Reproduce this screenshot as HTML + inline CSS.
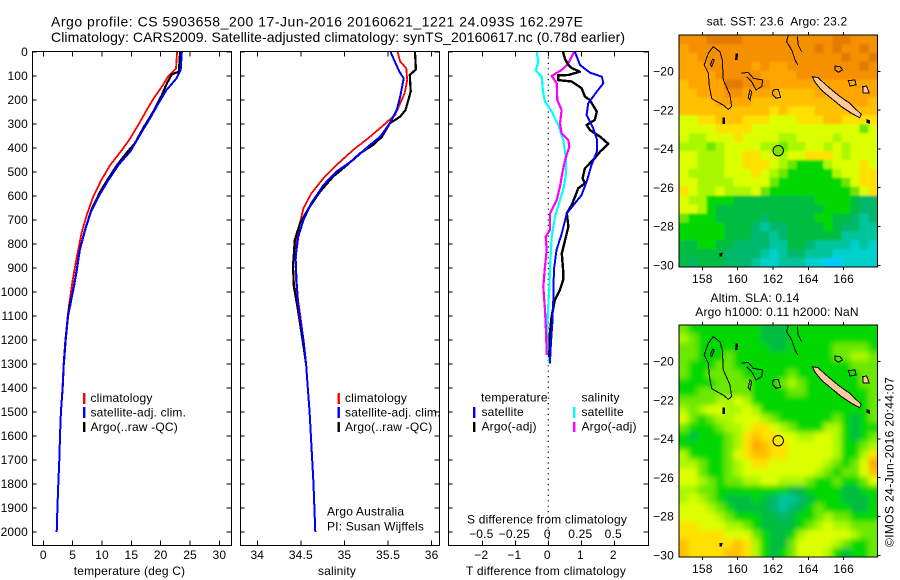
<!DOCTYPE html>
<html><head><meta charset="utf-8"><title>Argo profile</title>
<style>
html,body{margin:0;padding:0;background:#fff}
svg{display:block}
text{font-family:"Liberation Sans",Arial,sans-serif;font-size:12px;fill:#000;letter-spacing:.18px}
</style></head>
<body>
<svg id="fig" xmlns="http://www.w3.org/2000/svg" width="900" height="580" viewBox="0 0 900 580">
<defs>
<clipPath id="clipTop"><rect x="679.5" y="35" width="198" height="232"/></clipPath>
<clipPath id="clipBot"><rect x="679.5" y="325" width="198" height="232"/></clipPath>
<filter id="blurA" filterUnits="userSpaceOnUse" x="650" y="0" width="250" height="300"><feGaussianBlur stdDeviation="1"/></filter>
<filter id="blurB" filterUnits="userSpaceOnUse" x="650" y="290" width="250" height="290"><feGaussianBlur stdDeviation="2.6"/></filter>
</defs>
<text x="51" y="26.3" style="font-size:14px;letter-spacing:0" textLength="532">Argo profile: CS 5903658_200 17-Jun-2016 20160621_1221 24.093S 162.297E</text>
<text x="51" y="41.8" style="font-size:14px;letter-spacing:0" textLength="574">Climatology: CARS2009. Satellite-adjusted climatology: synTS_20160617.nc (0.78d earlier)</text>

<g id="p1"></g>
<g id="p2"></g>
<g id="p3"></g>

<text x="129.5" y="575" text-anchor="middle">temperature (deg C)</text>
<text x="337" y="575" text-anchor="middle">salinity</text>
<text x="546" y="575" text-anchor="middle" textLength="160">T difference from climatology</text>
<text x="547" y="523.5" text-anchor="middle" textLength="160">S difference from climatology</text>

<g>
<rect x="83" y="393" width="2.4" height="11" fill="#f00"/>
<rect x="83" y="407" width="2.4" height="11" fill="#00f"/>
<rect x="83" y="422" width="2.4" height="10" fill="#000"/>
<text x="90.5" y="402">climatology</text>
<text x="90.5" y="416.5">satellite-adj. clim.</text>
<text x="90.5" y="431">Argo(..raw -QC)</text>
</g>
<g>
<rect x="337.5" y="393" width="2.4" height="11" fill="#f00"/>
<rect x="337.5" y="407" width="2.4" height="11" fill="#00f"/>
<rect x="337.5" y="422" width="2.4" height="10" fill="#000"/>
<text x="345" y="402">climatology</text>
<text x="345" y="416.5">satellite-adj. clim.</text>
<text x="345" y="431">Argo(..raw -QC)</text>
<text x="327" y="515.5">Argo Australia</text>
<text x="327" y="530.5">PI: Susan Wijffels</text>
</g>
<g>
<text x="481" y="401.5">temperature</text>
<rect x="473" y="407" width="2.4" height="11" fill="#00f"/>
<rect x="473" y="422" width="2.4" height="10" fill="#000"/>
<text x="481.5" y="416">satellite</text>
<text x="481.5" y="430.5">Argo(-adj)</text>
<text x="581.5" y="401.5">salinity</text>
<rect x="573" y="407" width="2.4" height="11" fill="#0ff"/>
<rect x="573" y="422" width="2.4" height="10" fill="#f0f"/>
<text x="581.5" y="416">satellite</text>
<text x="581.5" y="430.5">Argo(-adj)</text>
</g>

<text x="777" y="25.5" text-anchor="middle">sat. SST: 23.6&#160; Argo: 23.2</text>
<text x="755" y="302" text-anchor="middle">Altim. SLA: 0.14</text>
<text x="777" y="316" text-anchor="middle">Argo h1000: 0.11 h2000: NaN</text>
<g id="m1"></g>
<g id="m2"></g>
<text transform="translate(893.5,547) rotate(-90)" textLength="170">©IMOS 24-Jun-2016 20:44:07</text>
</svg>
<script>
// ---------- profile data ----------
const tempTickValues = [0,5,10,15,20,25,30];
const salTickValues = [34,34.5,35,35.5,36];
const salTickLabels = ['34','34.5','35','35.5','36'];
const diffTTickValues = [-2,-1,0,1,2];
const diffTTickLabels = ['\u22122','\u22121','0','1','2'];
const diffSTickValues = [-0.5,-0.25,0,0.25,0.5];
const diffSTickLabels = ['\u22120.5','\u22120.25','0','0.25','0.5'];
const depthTicks = [0,100,200,300,400,500,600,700,800,900,1000,1100,1200,1300,1400,1500,1600,1700,1800,1900,2000];

const tempClimDepth = [0,68,100,144,186,242,290,360,408,471,533,603,679,755,853,950,1054,1100,1200,1300,1400,1500,1600,1700,1800,1900,2000];
const tempClimValue = [22.8,22.6,21.3,20.2,19.0,17.6,16.5,14.8,13.4,11.4,9.9,8.5,7.4,6.5,5.7,5.0,4.4,4.15,3.75,3.45,3.25,3.0,2.85,2.73,2.56,2.4,2.28];
const tempArgoDepth = [0,82,93,128,179,250,318,380,420,470,526,582,658,742,825,908,992,1054,1100,1200,1300];
const tempArgoValue = [23.3,23.1,21.9,21.1,20.2,18.7,17.0,15.6,14.2,12.6,11.1,9.7,8.2,7.1,6.2,5.7,5.1,4.5,4.2,3.8,3.5];
const tempSatDepth = [0,75,110,158,214,276,332,415,471,533,603,672,742,825,908,992,1054,1100,1200,1300,1400,1500,1600,1700,1800,1900,2000];
const tempSatValue = [23.6,23.4,22.7,21.0,19.6,18.2,16.8,14.8,12.8,11.1,9.4,8.0,7.1,6.2,5.7,5.1,4.6,4.2,3.8,3.5,3.3,3.0,2.85,2.73,2.56,2.4,2.28];

const salClimDepth = [0,40,68,117,172,214,262,304,360,408,464,526,589,651,728,783,894,992,1061,1200,1300,1400,1500,1600,1700,1800,1900,2000];
const salClimValue = [35.61,35.64,35.71,35.72,35.69,35.64,35.58,35.45,35.27,35.10,34.93,34.76,34.62,34.53,34.48,34.45,34.44,34.45,34.48,34.53,34.56,34.58,34.60,34.615,34.63,34.645,34.655,34.665];
const salArgoDepth = [0,72,96,165,242,269,297,353,387,422,471,519,582,651,714,783,894,978,1061,1200,1300];
const salArgoValue = [35.81,35.82,35.75,35.76,35.70,35.64,35.52,35.43,35.33,35.18,35.03,34.87,34.72,34.59,34.49,34.43,34.41,34.42,34.46,34.52,34.56];
const salSatDepth = [0,33,82,110,186,242,297,353,394,450,498,554,630,700,769,853,950,1061,1200,1300,1400,1500,1600,1700,1800,1900,2000];
const salSatValue = [35.53,35.57,35.63,35.68,35.64,35.60,35.52,35.41,35.27,35.10,34.91,34.76,34.62,34.53,34.47,34.44,34.45,34.47,34.53,34.56,34.58,34.60,34.615,34.63,34.645,34.655,34.665];

const dtSatDepth = [0,54,86,103,130,165,214,262,318,367,415,471,533,596,672,756,825,908,1033,1131,1214,1297];
const dtSatValue = [0.81,0.96,1.26,1.62,1.67,1.47,1.21,1.16,1.36,1.48,1.47,1.31,1.18,1.01,0.56,0.41,0.25,0.17,0.15,0.12,0.08,0.05];
const dtArgoDepth = [0,30,54,68,82,96,97,117,123,151,186,200,248,283,304,325,353,383,415,443,485,526,547,568,603,637,672,728,783,839,908,950,992,1033,1103,1172,1270];
const dtArgoValue = [0.45,0.51,0.61,0.72,0.96,0.61,0.30,0.30,0.71,1.01,1.11,1.26,1.47,1.41,1.16,1.26,1.57,1.82,1.57,1.41,1.11,1.04,1.11,0.91,0.81,0.71,0.56,0.61,0.51,0.41,0.45,0.45,0.35,0.20,0.10,0.05,0.03];
const dsSatDepth = [0,40,78,103,158,207,248,304,367,436,505,561,617,686,769,894,978,1103,1214,1297];
const dsSatValue = [-0.088,-0.076,-0.095,-0.05,-0.042,-0.025,0.026,0.076,0.114,0.132,0.134,0.119,0.089,0.051,0.026,0.013,0.008,-0.005,-0.008,0.008];
const dsArgoDepth = [0,47,75,100,130,200,242,297,339,367,394,450,505,561,617,672,742,769,825,894,978,1075,1172,1262];
const dsArgoValue = [0.195,0.152,0.101,0.026,0.064,0.068,0.101,0.089,0.101,0.152,0.159,0.127,0.106,0.089,0.064,0.013,0.013,-0.02,-0.012,-0.025,-0.038,-0.025,-0.017,-0.012];

// ---------- map data: colour level per grid cell ----------
const palette = ['#e27c00','#f59000','#ffa500','#ffc000','#ffe000','#dcff00','#aaf800','#6ce800','#00d800','#00bc40','#00b86c','#00c49c','#00d0cc','#00ccff'];
const sstGrid = [
[1,1,1,0,0,0,0,1,1,1,1,1,1,1,1,1,1,0,0,1,1,1],
[2,1,1,1,1,1,1,1,1,1,1,1,1,1,1,0,1,0,1,1,0,1],
[2,2,1,1,1,1,1,1,1,1,1,1,1,1,1,1,1,1,0,1,1,0],
[2,2,2,1,1,1,1,1,2,1,2,2,1,1,1,1,1,1,1,1,0,1],
[2,2,2,2,1,1,1,1,1,2,2,2,2,1,1,1,1,1,1,1,1,1],
[3,2,2,2,2,0,0,1,1,1,2,2,2,2,2,2,2,2,2,2,2,2],
[3,3,2,2,2,1,1,2,2,2,2,3,3,3,3,2,2,2,2,2,2,2],
[3,3,3,3,2,2,2,2,3,3,3,3,3,3,3,3,3,3,2,2,2,3],
[3,3,3,3,3,3,3,3,3,3,4,3,4,4,4,3,3,3,3,3,3,3],
[5,5,4,4,3,3,3,4,4,4,5,5,5,4,4,4,3,3,4,4,4,4],
[5,5,5,5,4,4,4,4,5,5,5,5,5,5,5,5,5,5,5,5,7,5],
[5,6,6,5,5,5,4,5,5,5,5,6,6,5,5,5,5,6,5,5,5,5],
[6,6,6,7,6,5,5,5,5,6,6,7,6,6,5,5,6,5,6,5,5,5],
[5,5,6,6,6,5,5,4,4,5,5,6,5,5,4,4,4,5,6,5,5,5],
[5,5,6,6,6,5,5,4,4,4,5,6,7,8,8,8,6,5,5,5,4,5],
[5,6,6,6,6,5,5,5,4,5,6,7,8,8,8,8,8,6,5,5,4,4],
[5,5,6,6,6,6,5,5,5,5,7,8,8,8,8,8,8,8,7,5,4,4],
[4,5,6,6,5,6,6,6,5,7,8,8,8,8,8,8,8,8,8,7,5,4],
[5,6,6,8,8,8,9,9,9,9,9,9,9,9,9,8,8,8,8,9,10,10],
[5,5,6,8,9,9,9,9,9,9,9,9,9,9,9,9,8,8,8,9,10,10],
[7,8,8,8,9,9,9,9,9,10,9,9,9,9,9,8,8,9,9,10,11,10],
[8,8,8,8,8,9,9,9,10,11,10,10,9,9,9,9,8,9,10,10,11,11],
[8,8,8,8,8,9,9,9,10,10,11,10,9,9,9,9,9,9,11,11,11,11],
[9,9,8,8,9,9,10,10,10,10,11,11,9,9,10,11,11,11,11,12,11,12],
[9,9,9,9,9,10,10,10,10,11,12,11,10,10,11,11,11,12,12,12,12,12],
[9,10,9,9,9,10,10,10,11,12,12,11,11,11,12,12,13,13,12,12,12,12]
];
const slaGrid = [
[7,8,8,8,8,8,8,8,8,9,9,9,8,8,8,8,8,8,8,8,8,8],
[6,7,8,8,8,8,8,8,8,9,9,9,8,8,8,8,8,8,8,8,8,8],
[7,7,8,8,8,8,8,8,8,8,9,9,8,8,8,8,8,7,7,7,7,8],
[7,7,8,8,8,7,8,8,8,8,8,8,8,8,8,8,8,7,7,6,6,7],
[7,8,8,8,7,7,8,8,8,8,8,8,8,8,8,8,8,8,8,7,7,7],
[7,8,8,7,7,7,7,8,8,8,8,8,7,8,8,8,8,8,8,8,7,7],
[8,8,8,8,7,7,7,7,8,8,8,7,6,7,8,8,8,8,8,8,7,7],
[8,8,7,7,7,7,7,7,8,8,8,8,7,7,8,8,8,8,8,8,8,7],
[7,7,7,7,6,6,5,6,8,8,8,8,8,8,8,8,8,8,8,8,8,7],
[6,7,6,5,5,6,6,5,6,8,8,8,8,8,8,8,8,8,8,8,8,7],
[5,7,8,7,6,6,5,5,5,6,7,8,8,8,8,8,8,7,8,9,8,7],
[7,8,8,8,7,6,6,5,4,4,5,6,7,8,8,8,6,6,8,9,8,8],
[8,9,8,8,8,7,6,4,3,4,4,5,5,6,6,5,5,6,8,9,8,7],
[8,8,8,8,8,7,6,4,2,3,4,4,5,5,5,5,5,6,8,8,7,6],
[6,8,8,8,8,7,5,4,3,3,4,4,5,5,5,5,5,6,8,8,6,4],
[6,6,7,8,8,7,6,5,4,4,5,5,5,5,5,5,6,7,8,7,5,2],
[5,5,7,8,8,7,6,5,5,5,5,5,5,5,5,6,7,8,7,7,5,3],
[5,5,6,7,8,7,7,6,6,5,5,6,6,6,7,8,8,7,8,8,7,5],
[6,6,7,7,8,8,8,8,8,8,8,8,9,9,8,8,8,8,9,9,8,8],
[6,5,6,7,8,9,9,9,8,9,10,11,11,10,9,8,8,8,9,9,9,8],
[5,5,5,6,7,8,9,9,9,9,10,11,10,9,8,7,8,8,8,9,9,8],
[5,5,5,5,6,7,8,8,8,9,9,10,9,8,8,7,6,7,7,8,8,8],
[4,4,5,5,5,6,6,7,8,9,9,9,9,8,7,6,5,6,6,7,7,7],
[4,4,4,4,4,5,5,5,7,8,9,9,8,6,5,5,5,5,5,6,7,7],
[3,4,4,4,4,4,3,4,6,8,9,9,7,5,5,5,5,6,7,8,8,7],
[3,4,4,4,4,3,3,4,6,8,9,8,7,5,5,5,6,8,9,8,8,7]
];
const lonTicks = [158,160,162,164,166];
const latTicks = [-20,-22,-24,-26,-28,-30];
const argoLon = 162.297;
const argoLat = -24.093;
const coastNames = ['new-caledonia','chesterfield-reef','chesterfield-inner','bellona-reef','reef-ring','reef-small','coast-line-a','coast-line-b','ouvea','lifou','mare','island-a','island-b','island-c','island-d'];
const coastLons = [
[164.23,164.55,165.11,165.68,166.34,167.0,166.91,166.43,165.87,165.30,164.73,164.36],
[158.62,159.0,159.13,159.19,159.57,159.66,159.47,159.19,158.72,158.53,158.40,158.34,158.11,158.34],
[158.58,158.68,158.53,158.45],
[160.23,160.60,160.89,161.42,161.36,161.04,160.79,160.51],
[162.02,162.30,162.43,162.17,161.96],
[160.70,160.79,160.70,160.60],
[162.87,162.77,163.06,163.25,163.40],
[163.38,163.43,163.62],
[165.51,165.79,165.94,165.70,165.51],
[166.26,166.64,166.70,166.36],
[167.08,167.30,167.45,167.11],
[167.33,167.47,167.45,167.33],
[159.18,159.27,159.25,159.16],
[159.90,159.99,159.97,159.89],
[159.0,159.12,159.08,159.0]
];
const coastLats = [
[-20.28,-20.33,-20.79,-21.22,-21.65,-22.22,-22.39,-22.16,-21.82,-21.39,-20.96,-20.53],
[-18.73,-18.99,-19.42,-20.45,-21.22,-21.82,-21.96,-21.74,-21.51,-21.39,-20.79,-20.10,-19.67,-19.07],
[-19.38,-19.42,-19.76,-19.67],
[-20.10,-20.05,-20.36,-20.45,-20.79,-20.96,-20.53,-20.27],
[-20.96,-20.93,-21.34,-21.39,-21.17],
[-20.96,-21.05,-21.48,-21.34],
[-18.13,-18.47,-18.90,-19.42,-19.67],
[-18.21,-18.64,-18.99],
[-19.73,-19.76,-19.93,-20.05,-19.93],
[-20.48,-20.45,-20.70,-20.76],
[-20.79,-20.76,-21.13,-21.13],
[-22.50,-22.55,-22.68,-22.64],
[-22.40,-22.40,-22.68,-22.68],
[-19.10,-19.10,-19.38,-19.38],
[-29.40,-29.38,-29.52,-29.52]
];
const coastKinds = ['land','ring','ring','open','ring','ring','open','open','ring','ring','land','dark','dark','dark','dark'];

// ---------- axis functions ----------
const yD = d => 52 + d * 0.24;
const xT = t => 43.3 + t * 5.87;
const xS = s => 257.3 + (s - 34) * 87.15;
const xDT = t => 548.3 + t * 33;
const xDS = s => 548.3 + s * 132;
const lonX = lon => 702.3 + (lon - 158) * 17.67;
const latY = (lat, off) => 71.3 + off + (-20 - lat) * 19.4;
const NS = 'http://www.w3.org/2000/svg';

function mk(parent, tag, attrs, name) {
  const el = document.createElementNS(NS, tag);
  for (const k in attrs) el.setAttribute(k, attrs[k]);
  
  
  parent.appendChild(el);
  return el;
}
function label(parent, x, y, str, anchor, name) {
  const t = mk(parent, 'text', {x: x, y: y, 'text-anchor': anchor}, name);
  t.textContent = str;
  return t;
}
function hline(p, x1, y1, x2, y2, name) {
  mk(p, 'line', {x1: x1, y1: y1, x2: x2, y2: y2, stroke: '#000', 'stroke-width': 1, 'shape-rendering': 'crispEdges'}, name);
}
function panelFrame(p, left, right, ticks, fn) {
  mk(p, 'rect', {x: left + 0.5, y: 51.5, width: right - left, height: 494, fill: 'none', stroke: '#000', 'stroke-width': 1.3, 'shape-rendering': 'crispEdges'}, 'panel-frame');
  depthTicks.forEach(d => {
    hline(p, left, yD(d), left + 4.5, yD(d), 'depth-tick-left');
    hline(p, right, yD(d), right - 4.5, yD(d), 'depth-tick-right');
  });
  ticks.forEach(v => {
    hline(p, fn(v), 52, fn(v), 56.5, 'x-tick-top');
    hline(p, fn(v), 545, fn(v), 540.5, 'x-tick-bottom');
  });
}
function curve(p, depths, values, fx, color, w, name) {
  const pts = depths.map((d, i) => fx(values[i]).toFixed(1) + ',' + yD(d).toFixed(1)).join(' ');
  mk(p, 'polyline', {points: pts, fill: 'none', stroke: color, 'stroke-width': w, 'stroke-linejoin': 'round', 'shape-rendering': 'crispEdges'}, name);
}

// ---------- panels ----------
const p1 = document.getElementById('p1');
panelFrame(p1, 32, 231, tempTickValues, xT);
curve(p1, tempClimDepth, tempClimValue, xT, '#f00', 1.8, 'temperature-climatology-line');
curve(p1, tempArgoDepth, tempArgoValue, xT, '#000', 2.2, 'temperature-argo-line');
curve(p1, tempSatDepth, tempSatValue, xT, '#00f', 2, 'temperature-satellite-line');
depthTicks.forEach(d => label(p1, 28, yD(d) + 4.2, String(d), 'end', 'depth-tick-label'));
tempTickValues.forEach(v => label(p1, xT(v), 559, String(v), 'middle', 'temperature-tick-label'));

const p2 = document.getElementById('p2');
panelFrame(p2, 240, 439, salTickValues, xS);
curve(p2, salClimDepth, salClimValue, xS, '#f00', 1.8, 'salinity-climatology-line');
curve(p2, salArgoDepth, salArgoValue, xS, '#000', 2.2, 'salinity-argo-line');
curve(p2, salSatDepth, salSatValue, xS, '#00f', 2, 'salinity-satellite-line');
salTickValues.forEach((v, i) => label(p2, xS(v), 559, salTickLabels[i], 'middle', 'salinity-tick-label'));

const p3 = document.getElementById('p3');
panelFrame(p3, 448, 648, diffTTickValues, xDT);
mk(p3, 'line', {x1: xDT(0), y1: 52, x2: xDT(0), y2: 545, stroke: '#000', 'stroke-width': 1.2, 'stroke-dasharray': '1.2 4.2'}, 'zero-reference-line');
curve(p3, dsSatDepth, dsSatValue, xDS, '#0ff', 2.2, 'salinity-satellite-difference-line');
curve(p3, dsArgoDepth, dsArgoValue, xDS, '#f0f', 2.2, 'salinity-argo-difference-line');
curve(p3, dtArgoDepth, dtArgoValue, xDT, '#000', 2.4, 'temperature-argo-difference-line');
curve(p3, dtSatDepth, dtSatValue, xDT, '#00f', 2, 'temperature-satellite-difference-line');
diffTTickValues.forEach((v, i) => label(p3, xDT(v) - 1, 559, diffTTickLabels[i], 'middle', 't-difference-tick-label'));
diffSTickValues.forEach((v, i) => label(p3, xDS(v) - 1, 538, diffSTickLabels[i], 'middle', 's-difference-tick-label'));

// ---------- maps ----------
function drawMap(g, grid, off, clip, blur, markerFill) {
  const left = 679.5, top = 35 + off, cw = 198 / grid[0].length, ch = 232 / grid.length;
  const clipG = mk(g, 'g', {'clip-path': 'url(#' + clip + ')'}, 'map-plot-area');
  const cells = mk(clipG, 'g', {filter: 'url(#' + blur + ')'}, 'map-heatmap');
  grid.forEach((row, r) => row.forEach((v, c) => {
    let x = left + c * cw, y = top + r * ch, w = cw + 0.5, h = ch + 0.5;
    if (c === 0) { x -= 12; w += 12; }
    if (c === row.length - 1) { w += 12; }
    if (r === 0) { y -= 12; h += 12; }
    if (r === grid.length - 1) { h += 12; }
    mk(cells, 'rect', {x: x.toFixed(2), y: y.toFixed(2), width: w.toFixed(2), height: h.toFixed(2), fill: palette[v]}, 'map-cell');
  }));
  coastNames.forEach((nm, i) => {
    const pts = coastLons[i].map((lon, j) => lonX(lon).toFixed(1) + ',' + latY(coastLats[i][j], off).toFixed(1)).join(' ');
    const kind = coastKinds[i];
    const tag = kind === 'open' ? 'polyline' : 'polygon';
    const fill = kind === 'land' ? '#ffc99b' : kind === 'dark' ? '#000' : 'none';
    mk(clipG, tag, {points: pts, fill: fill, stroke: '#000', 'stroke-width': 1, 'shape-rendering': 'crispEdges'}, 'coast-' + nm);
  });
  mk(clipG, 'circle', {cx: lonX(argoLon), cy: latY(argoLat, off), r: 5.2, fill: markerFill, stroke: '#000', 'stroke-width': 1}, 'argo-position-marker');
  mk(g, 'rect', {x: 679, y: top, width: 198.5, height: 232, fill: 'none', stroke: '#000', 'stroke-width': 1.2, 'shape-rendering': 'crispEdges'}, 'map-frame');
  lonTicks.forEach(lon => {
    hline(g, lonX(lon), top, lonX(lon), top - 3, 'map-lon-tick-top');
    hline(g, lonX(lon), top + 232, lonX(lon), top + 235, 'map-lon-tick-bottom');
    label(g, lonX(lon), top + 248, String(lon), 'middle', 'map-lon-label');
  });
  latTicks.forEach(lat => {
    hline(g, 877, latY(lat, off), 880.5, latY(lat, off), 'map-lat-tick');
    label(g, 674, latY(lat, off) + 4.2, '\u2212' + Math.abs(lat), 'end', 'map-lat-label');
  });
}
drawMap(document.getElementById('m1'), sstGrid, 0, 'clipTop', 'blurA', '#80e400');
drawMap(document.getElementById('m2'), slaGrid, 290, 'clipBot', 'blurB', 'none');
</script>
</body></html>
